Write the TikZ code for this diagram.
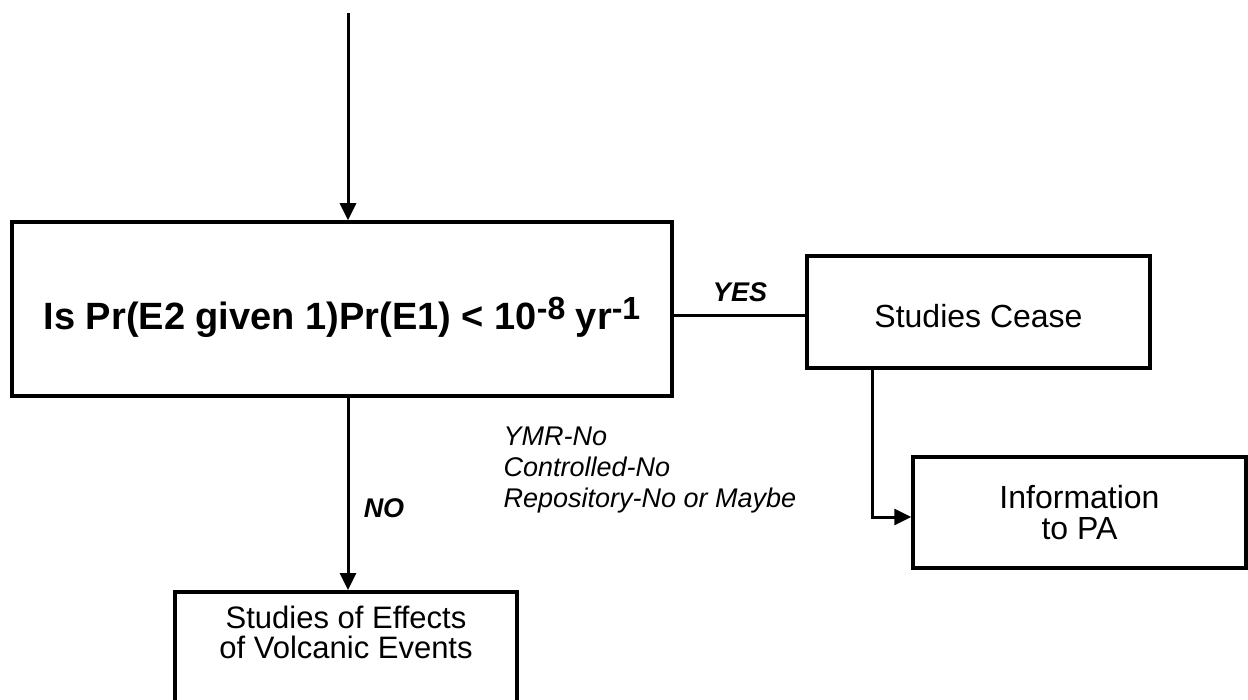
\documentclass[tikz,border=0pt]{standalone}
\usepackage{fontspec}
\setmainfont{Liberation Sans}
\usetikzlibrary{arrows.meta}
\newcommand\mysup[1]{\raisebox{10pt}{\fontsize{32}{32}\selectfont #1}}
\tikzset{
  box/.style={draw=black, line width=3.5pt, fill=none, inner sep=0pt},
  conn/.style={draw=black, line width=3pt},
  arr/.style={conn, -{Triangle[length=17pt,width=16pt]}},
  plain/.style={font=\fontsize{32}{31}\selectfont, align=center},
  lab/.style={font=\fontsize{27}{27}\selectfont\bfseries\itshape},
  note/.style={font=\fontsize{27}{31}\selectfont\itshape, align=left, anchor=west},
}
\begin{document}
\begin{tikzpicture}[x=1pt, y=-1pt]
\useasboundingbox (0,0) rectangle (1248,700);
\clip (0,0) rectangle (1248,700);
\fill[white] (0,0) rectangle (1248,700);
% boxes
\node[box, minimum width=660pt, minimum height=174pt, text height=42pt, text depth=0pt,
      font=\fontsize{38}{38}\selectfont\bfseries] (main) at (342,309)
  {Is Pr(E2 given 1)Pr(E1) < 10\mysup{-8} yr\mysup{-1}};
\node[box, minimum width=343pt, minimum height=112pt, text height=32pt, text depth=0pt,
      font=\fontsize{32}{32}\selectfont] (cease) at (978.5,312) {Studies Cease};
\node[box, minimum width=333pt, minimum height=111pt, plain] (info) at (1079.5,512.5)
  {Information\\to PA};
\node[box, anchor=north, minimum width=342pt, minimum height=150pt] (effects) at (346,590) {};
\node[plain, font=\fontsize{31}{30}\selectfont] (effectstext) at (346,632)
  {Studies of Effects\\of Volcanic Events};
% coordinates
\coordinate (top) at (348,13);
\coordinate (yesy) at (0,316);
\coordinate (elbow) at (872,517);
% connectors
\draw[arr] (top) -- (top |- main.north);
\draw[conn] (main.east |- yesy) -- (cease.west |- yesy);
\draw[arr] (top |- main.south) -- (top |- effects.north);
\draw[arr] (elbow |- cease.south) -- (elbow) -- (elbow -| info.west);
% labels
\node[lab] (yes) at (740,292) {YES};
\node[lab] (no) at (384,508) {NO};
\node[note] (notes) at (500,470) {YMR-No\\Controlled-No\\Repository-No or Maybe};
\end{tikzpicture}
\end{document}
